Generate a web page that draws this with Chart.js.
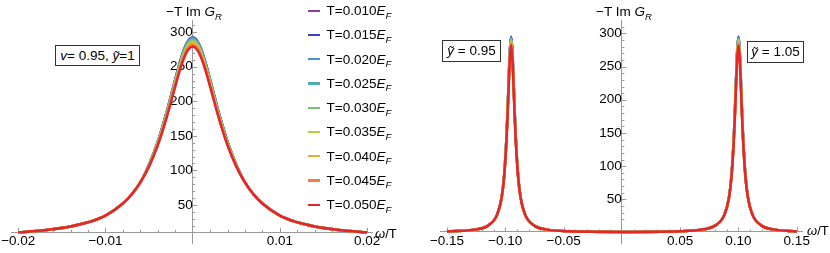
<!DOCTYPE html>
<html><head><meta charset="utf-8">
<script src="https://cdn.jsdelivr.net/npm/chart.js@4.4.0/dist/chart.umd.min.js"></script>
<style>
html,body{margin:0;padding:0;background:#fff;}
#wrap{position:relative;width:830px;height:253px;overflow:hidden;font-family:"Liberation Sans",Arial,sans-serif;color:#000;}
canvas{position:absolute;left:0;top:0;}
.t{position:absolute;font-size:13.5px;white-space:nowrap;line-height:1;}
.sub{font-size:9.5px;font-style:italic;position:relative;top:3.5px;}
.box{position:absolute;box-sizing:border-box;border:1px solid #333;background:#fff;font-size:13.5px;white-space:nowrap;display:flex;align-items:center;justify-content:center;line-height:1;}
.lg{position:absolute;height:2.2px;width:12px;}
</style></head>
<body><div id="wrap">
<canvas id="cL" width="830" height="253"></canvas>
<canvas id="cR" width="830" height="253"></canvas>
</div>
<script>
// ---------- data ----------
const tempLabels = ["0.010","0.015","0.020","0.025","0.030","0.035","0.040","0.045","0.050"];

// Left panel (v=0.95, ỹ=1)
const omegaLeft = [-0.02,-0.017,-0.014,-0.012,-0.01,-0.008,-0.007,-0.006,
  -0.005,-0.004,-0.003,-0.002,-0.0015,-0.001,-0.0005,0,0.0005,0.001,0.0015,0.002,0.003,0.004,0.005,
  0.006,0.007,0.008,0.01,0.012,0.014,0.017,0.02];
const leftTailLow  = [10.2,13.4,18.8,24.8,34.5,52.0,65.0,82.5];
const leftTailHigh = [82.5,65.0,52.0,34.5,24.8,18.8,13.4,10.2];
const leftCoreT010 = [108.7,141.7,183.7,231.6,254.8,274.5,287.8,292.5,287.8,274.5,254.8,231.6,183.7,141.7,108.7];
const leftCoreT015 = [108.6,141.6,183.5,231.4,254.6,274.3,287.6,292.3,287.6,274.3,254.6,231.4,183.5,141.6,108.6];
const leftCoreT020 = [108.5,141.2,183.0,230.8,253.9,273.6,286.8,291.5,286.8,273.6,253.9,230.8,183.0,141.2,108.5];
const leftCoreT025 = [108.2,140.7,182.2,229.8,252.8,272.4,285.5,290.2,285.5,272.4,252.8,229.8,182.2,140.7,108.2];
const leftCoreT030 = [107.8,140.0,181.2,228.4,251.3,270.8,283.9,288.5,283.9,270.8,251.3,228.4,181.2,140.0,107.8];
const leftCoreT035 = [107.3,139.1,179.9,226.8,249.6,268.9,281.9,286.5,281.9,268.9,249.6,226.8,179.9,139.1,107.3];
const leftCoreT040 = [106.8,138.2,178.6,225.1,247.7,266.8,279.7,284.3,279.7,266.8,247.7,225.1,178.6,138.2,106.8];
const leftCoreT045 = [106.3,137.3,177.2,223.3,245.7,264.7,277.5,282.0,277.5,264.7,245.7,223.3,177.2,137.3,106.3];
const leftCoreT050 = [105.7,136.2,175.6,221.3,243.5,262.3,275.0,279.5,275.0,262.3,243.5,221.3,175.6,136.2,105.7];

// Right panel (ỹ=0.95 peak and ỹ=1.05 peak)
const omegaRight = [-0.15,-0.125,-0.115,-0.107,-0.103,
  -0.101,-0.099,-0.098,-0.097,-0.096,-0.095,-0.094,-0.093,-0.092,-0.091,-0.089,
  -0.087,-0.083,-0.075,-0.065,-0.045,0,0.05,0.07,0.08,0.088,0.092,
  0.094,0.096,0.097,0.098,0.099,0.1,0.101,0.102,0.103,0.104,0.106,
  0.108,0.112,0.12,0.13,0.15];
const rightTailA = [1.4,4.7,10.3,26.9,54.1];
const rightTailB = [54.1,26.9,10.3,4.7,1.8,0.9,1.9,4.8,10.4,26.9,54.1];
const rightTailC = [54.1,26.9,10.3,4.7,1.7];
const rightCoreT010 = [85.4,142.9,185.3,233.6,276.8,295.0,276.8,233.6,185.3,142.9,85.4];
const rightCoreT015 = [85.3,142.8,185.1,233.4,276.6,294.8,276.6,233.4,185.1,142.8,85.3];
const rightCoreT020 = [85.2,142.4,184.6,232.8,275.9,294.0,275.9,232.8,184.6,142.4,85.2];
const rightCoreT025 = [85.1,141.9,183.8,231.8,274.7,292.7,274.7,231.8,183.8,141.9,85.1];
const rightCoreT030 = [84.9,141.2,182.8,230.4,273.1,291.0,273.1,230.4,182.8,141.2,84.9];
const rightCoreT035 = [84.6,140.3,181.5,228.8,271.2,289.0,271.2,228.8,181.5,140.3,84.6];
const rightCoreT040 = [84.4,139.4,180.2,227.1,269.1,286.8,269.1,227.1,180.2,139.4,84.4];
const rightCoreT045 = [84.1,138.5,178.8,225.3,267.0,284.5,267.0,225.3,178.8,138.5,84.1];
const rightCoreT050 = [83.8,137.4,177.2,223.3,264.6,282.0,264.6,223.3,177.2,137.4,83.8];

// Ticks
const xTickValuesLeft = [-0.02,-0.01,0.01,0.02];
const xTickLabelsLeft = ["\u22120.02","\u22120.01","0.01","0.02"];
const xMinorLeft = [-0.018,-0.016,-0.014,-0.012,-0.008,-0.006,-0.004,-0.002,0.002,0.004,0.006,0.008,0.012,0.014,0.016,0.018];
const yTickValues = [50,100,150,200,250,300];
const yTickLabels = ["50","100","150","200","250","300"];
const yMinor = [20,30,40,60,70,80,90,110,120,130,140,160,170,180,190,210,220,230,240,260,270,280,290,310];
const xTickValuesRight = [-0.15,-0.1,-0.05,0.05,0.1,0.15];
const xTickLabelsRight = ["\u22120.15","\u22120.10","\u22120.05","0.05","0.10","0.15"];
const xMinorRight = [-0.14,-0.13,-0.12,-0.11,-0.09,-0.08,-0.07,-0.06,-0.04,-0.03,-0.02,-0.01,0.01,0.02,0.03,0.04,0.06,0.07,0.08,0.09,0.11,0.12,0.13,0.14];

// ---------- styles ----------
const colors = ['#8a3d9e','#3d3dc8','#4b8fe0','#4cb0a8','#7fc070','#b9c94b','#e8b038','#f08042','#e2262a'];
const FONT = '"Liberation Sans", Arial, sans-serif';

const leftSeries = [
  [...leftTailLow, ...leftCoreT010, ...leftTailHigh],
  [...leftTailLow, ...leftCoreT015, ...leftTailHigh],
  [...leftTailLow, ...leftCoreT020, ...leftTailHigh],
  [...leftTailLow, ...leftCoreT025, ...leftTailHigh],
  [...leftTailLow, ...leftCoreT030, ...leftTailHigh],
  [...leftTailLow, ...leftCoreT035, ...leftTailHigh],
  [...leftTailLow, ...leftCoreT040, ...leftTailHigh],
  [...leftTailLow, ...leftCoreT045, ...leftTailHigh],
  [...leftTailLow, ...leftCoreT050, ...leftTailHigh]
];
const rc = [rightCoreT010,rightCoreT015,rightCoreT020,rightCoreT025,rightCoreT030,rightCoreT035,rightCoreT040,rightCoreT045,rightCoreT050];
const rightSeries = rc.map(c => [...rightTailA, ...c, ...rightTailB, ...c, ...rightTailC]);

const tickPlugin = {
  id: 'mmaTicks',
  beforeDatasetsDraw(chart, args, o) {
    const ctx = chart.ctx, xs = chart.scales.x, ys = chart.scales.y;
    const axY = ys.getPixelForValue(o.xAxisAt);
    const axX = xs.getPixelForValue(0);
    ctx.save();
    ctx.strokeStyle = '#9a9a9a';
    ctx.lineWidth = 1;
    ctx.beginPath();
    o.xMajor.forEach(v => { const p = Math.round(xs.getPixelForValue(v)) + 0.5; ctx.moveTo(p, axY); ctx.lineTo(p, axY - 4.5); });
    o.xMinor.forEach(v => { const p = Math.round(xs.getPixelForValue(v)) + 0.5; ctx.moveTo(p, axY); ctx.lineTo(p, axY - 2.5); });
    o.yMajor.forEach(v => { const p = Math.round(ys.getPixelForValue(v)) + 0.5; ctx.moveTo(axX, p); ctx.lineTo(axX + 4.5, p); });
    o.yMinor.forEach(v => { const p = Math.round(ys.getPixelForValue(v)) + 0.5; ctx.moveTo(axX, p); ctx.lineTo(axX + 2.5, p); });
    ctx.stroke();
    ctx.restore();
  }
};

function makeChart(id, omega, series, o) {
  const n = series.length;
  const datasets = series.map((vals, i) => ({
    label: 'T=' + tempLabels[i] + 'E_F',
    data: omega.map((x, k) => ({x: x, y: vals[k]})),
    borderColor: colors[i],
    backgroundColor: colors[i],
    borderWidth: 2.5,
    pointRadius: 0,
    cubicInterpolationMode: 'monotone',
    fill: false,
    clip: false,
    order: n - 1 - i
  }));
  return new Chart(document.getElementById(id), {
    type: 'line',
    data: { datasets },
    plugins: [tickPlugin],
    options: {
      responsive: false, animation: false, devicePixelRatio: 1, events: [],
      layout: { padding: o.padding },
      plugins: { legend: { display: false }, tooltip: { enabled: false }, mmaTicks: o.ticks },
      scales: {
        x: {
          type: 'linear', min: o.xMin, max: o.xMax,
          position: { y: o.ticks.xAxisAt },
          grid: { display: false, drawTicks: false },
          border: { display: true, color: '#9a9a9a', width: 1 },
          afterBuildTicks: s => { s.ticks = o.ticks.xMajor.map(v => ({value: v})); },
          ticks: { autoSkip: false, maxRotation: 0, padding: 1, color: '#000',
                   font: { family: FONT, size: 13.5 },
                   callback: (v, i) => o.xLabels[i] }
        },
        y: {
          type: 'linear', min: o.yMin, max: o.yMax,
          position: { x: 0 },
          grid: { display: false, drawTicks: false },
          border: { display: true, color: '#9a9a9a', width: 1 },
          afterBuildTicks: s => { s.ticks = yTickValues.map(v => ({value: v})); },
          ticks: { autoSkip: false, padding: 1, color: '#000',
                   font: { family: FONT, size: 13.5 },
                   callback: (v, i) => yTickLabels[i] }
        }
      }
    }
  });
}

makeChart('cL', omegaLeft, leftSeries, {
  padding: { left: 10, right: 457.75, top: 20, bottom: 7 },
  xMin: -0.0208, xMax: 0.0206, yMin: -6.5, yMax: 317.7,
  xLabels: xTickLabelsLeft,
  ticks: { xAxisAt: 10.2, xMajor: xTickValuesLeft, xMinor: xMinorLeft, yMajor: yTickValues, yMinor: yMinor }
});
makeChart('cR', omegaRight, rightSeries, {
  padding: { left: 440, right: 28, top: 20, bottom: 10 },
  xMin: -0.156, xMax: 0.1545, yMin: -15.8, yMax: 320.2,
  xLabels: xTickLabelsRight,
  ticks: { xAxisAt: 0.9, xMajor: xTickValuesRight, xMinor: xMinorRight, yMajor: yTickValues, yMinor: yMinor }
});

// ---------- text overlays ----------
const wrap = document.getElementById('wrap');
function addText(html, left, top, cls, style) {
  const d = document.createElement('div');
  d.className = cls || 't';
  d.innerHTML = html;
  d.style.left = left + 'px'; d.style.top = top + 'px';
  if (style) Object.assign(d.style, style);
  wrap.appendChild(d);
  return d;
}
const yAxisTitle = '\u2212T Im <i>G</i><span class="sub">R</span>';
addText(yAxisTitle, 166, 5);
addText(yAxisTitle, 596, 5);
addText('<i>\u03c9</i>/T', 375, 227, 't', {fontSize: '13px'});
addText('<i>\u03c9</i>/T', 807, 224, 't', {fontSize: '13px'});
addText('<span><i>v</i>= 0.95, <i>\u1ef9</i>=1</span>', 55, 45, 'box', {width: '85px', height: '21px'});
addText('<span><i>\u1ef9</i> = 0.95</span>', 442, 40, 'box', {width: '59px', height: '22px'});
addText('<span><i>\u1ef9</i> = 1.05</span>', 747, 41, 'box', {width: '57px', height: '22px'});

tempLabels.forEach((t, i) => {
  const cy = 10.7 + 24.25 * i;
  const l = document.createElement('div');
  l.className = 'lg';
  l.style.left = '308px'; l.style.top = (cy - 1.1) + 'px'; l.style.background = colors[i];
  wrap.appendChild(l);
  addText('T=' + t + '<i>E</i><span class="sub">F</span>', 326.5, cy - 6.6);
});
</script>
</body></html>
